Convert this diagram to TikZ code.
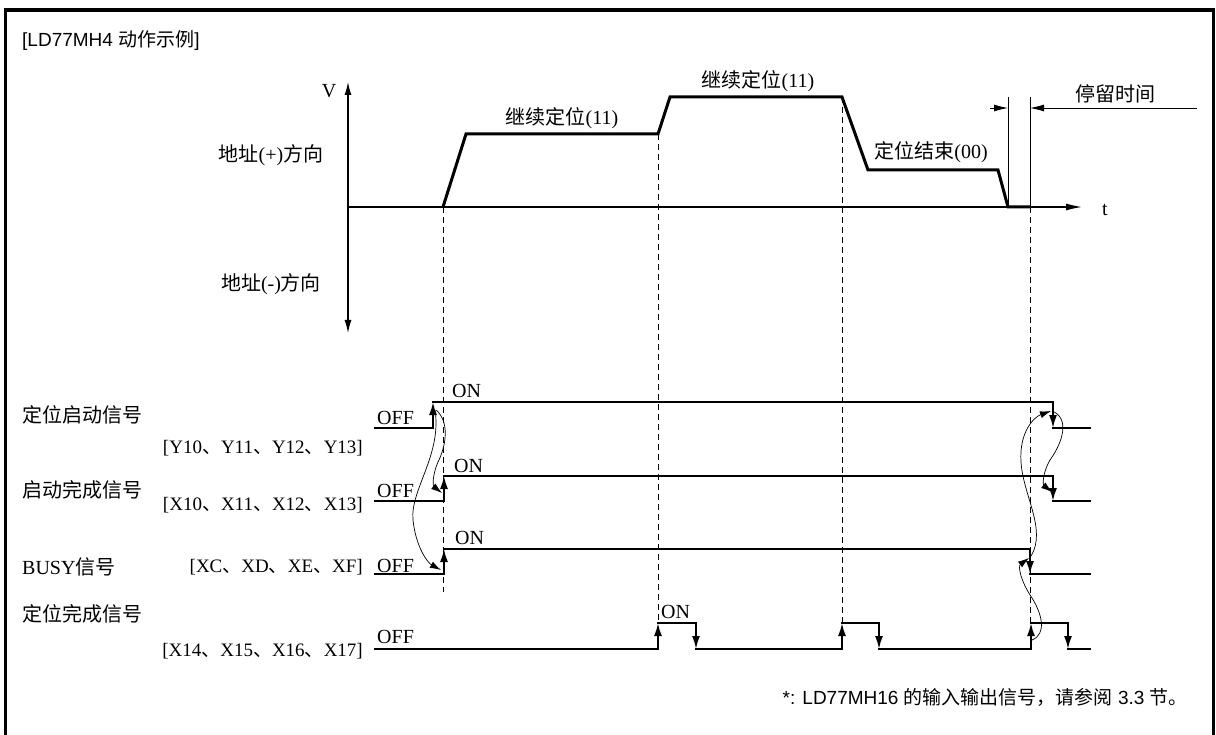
\documentclass[tikz,border=0pt]{standalone}
\usepackage{fontspec}
\setmainfont{Liberation Serif}
\setsansfont{Liberation Sans}
\newfontfamily\cjk{Noto Sans CJK SC}
\newcommand\zh[1]{{\cjk #1}}
\usetikzlibrary{arrows.meta}

\begin{document}
\begin{tikzpicture}[x=1pt,y=-1pt,
        every node/.style={font=\fontsize{20}{22}\selectfont, inner sep=0pt},
        prof/.style={line width=3pt, line join=miter},
        sig/.style={line width=1.8pt, line cap=rect},
        edge/.style={line width=1.8pt, -{Latex[length=13pt,width=8pt]}},
        cause/.style={line width=0.7pt, -{Latex[length=11pt,width=7pt]}},
        guide/.style={line width=0.9pt, dash pattern=on 6pt off 4pt},
        addr/.style={anchor=east, font=\fontsize{19}{21}\selectfont}]
    \useasboundingbox (0,0) rectangle (1216,735);
    % frame and title
    \draw[line width=3.5pt] (5.5,735) -- (5.5,10) -- (1213.5,10) -- (1213.5,735);
    \node[anchor=west, font=\sffamily\fontsize{19}{21}\selectfont] (title) at (22,41) {[LD77MH4 \zh{动作示例}]};

    % speed axes
    \draw[line width=1.2pt, {Latex[length=13pt,width=7pt]}-{Latex[length=13pt,width=7pt]}] (348,82) -- (348,333);
    \draw[line width=1.2pt, -{Latex[length=16pt,width=7pt]}] (348,207) -- (1082,207);
    \node (V) at (329,91) {V};
    \node (t) at (1105,210) {t};
    \node (plus) at (271,155) {\zh{地址}(+)\zh{方向}};
    \node (minus) at (271,284) {\zh{地址}(-)\zh{方向}};

    % speed profile
    \draw[prof] (443,207) -- (466,134) -- (658,134) -- (670,97) -- (842,97)
        -- (868,170) -- (998,170) -- (1008,207) -- (1030,207);
    \node (cont1) at (562,118) {\zh{继续定位}(11)};
    \node (cont2) at (758,81) {\zh{继续定位}(11)};
    \node (endpos) at (931,152) {\zh{定位结束}(00)};

    % dwell time
    \draw[line width=0.9pt] (1008,97) -- (1008,207) (1030,97) -- (1030,207);
    \draw[line width=0.9pt, -{Latex[length=14pt,width=7pt]}] (990,108) -- (1008,108);
    \draw[line width=0.9pt, -{Latex[length=14pt,width=7pt]}] (1197,108) -- (1030,108);
    \node (dwell) at (1115,94) {\zh{停留时间}};

    % time guides
    \foreach \x/\a/\b in {443/207/592, 658/134/622, 842/97/622, 1030/207/622}
        \draw[guide] (\x,\a) -- (\x,\b);

    % start, start complete, BUSY
    \foreach \lo/\hi/\r/\f in {428/402/433/1053, 501/476/444/1053, 574/549/444/1030} {
        \draw[sig] (375,\lo) -- (\r,\lo);
        \draw[edge] (\r,\lo) -- (\r,\hi);
        \draw[sig] (\r,\hi) -- (\f,\hi);
        \draw[edge] (\f,\hi) -- (\f,\lo);
        \draw[sig] (\f,\lo) -- (1090,\lo);
    }
    % positioning complete
    \draw[sig] (375,649) -- (658,649) (696,649) -- (842,649) (879,649) -- (1031,649) (1068,649) -- (1090,649);
    \foreach \r/\f in {658/696, 842/879, 1031/1068} {
        \draw[edge] (\r,649) -- (\r,623);
        \draw[sig] (\r,623) -- (\f,623);
        \draw[edge] (\f,623) -- (\f,649);
    }

    % signal names
    \node[anchor=west] (start) at (22,415) {\zh{定位启动信号}};
    \node[addr] (startY) at (363,448) {[Y10\zh{、}Y11\zh{、}Y12\zh{、}Y13]};
    \node[anchor=west] (done) at (22,490) {\zh{启动完成信号}};
    \node[addr] (doneX) at (363,505) {[X10\zh{、}X11\zh{、}X12\zh{、}X13]};
    \node[anchor=west] (busy) at (22,567) {BUSY\zh{信号}};
    \node[addr] (busyX) at (363,567) {[XC\zh{、}XD\zh{、}XE\zh{、}XF]};
    \node[anchor=west] (fin) at (22,614) {\zh{定位完成信号}};
    \node[addr] (finX) at (363,651) {[X14\zh{、}X15\zh{、}X16\zh{、}X17]};
    \foreach \y [count=\i] in {418,491,566,637}
        \node[anchor=west] (off\i) at (377,\y) {OFF};
    \foreach \x/\y [count=\i] in {452/391, 454/466, 455/538, 661/612}
        \node[anchor=west] (on\i) at (\x,\y) {ON};

    % cause and effect
    \draw[cause] (436,410) .. controls (450,422) and (446,446) .. (438,462)
        .. controls (432,476) and (433,486) .. (442,493);
    \draw[cause] (435,410) .. controls (442,455) and (410,490) .. (413,520)
        .. controls (416,548) and (428,563) .. (441,570);
    \draw[cause] (1031,556) .. controls (1047,530) and (1023,495) .. (1021,462)
        .. controls (1019,432) and (1034,417) .. (1051,411);
    \draw[cause] (1052,411) .. controls (1070,418) and (1063,442) .. (1050,460)
        .. controls (1042,474) and (1043,485) .. (1052,492);
    \draw[cause] (1032,640) .. controls (1047,634) and (1042,614) .. (1032,598)
        .. controls (1020,580) and (1018,566) .. (1029,558);

    \node[anchor=east, font=\sffamily\fontsize{19}{21}\selectfont] (note) at (1188,697)
        {*: LD77MH16 \zh{的输入输出信号，请参阅} 3.3 \zh{节。}};
\end{tikzpicture}
\end{document}
